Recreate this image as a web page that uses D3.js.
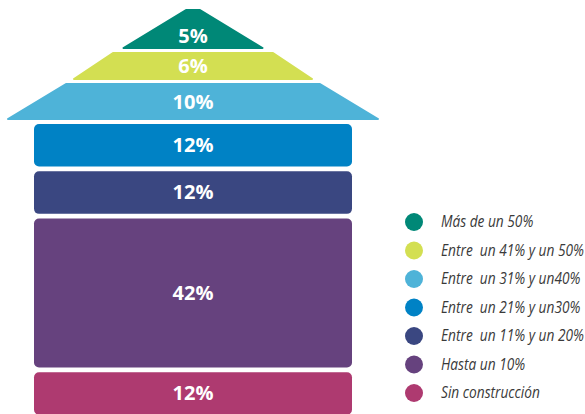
<!DOCTYPE html>
<html>
<head>
<meta charset="utf-8">
<script src="https://cdn.jsdelivr.net/npm/d3@7"></script>
<style>
  body { margin: 0; background: #fff; }
  svg { display: block; }
</style>
</head>
<body>
<div id="chart"></div>
<script>
// layers from top of the house to the bottom
var categories = ['Más de un 50%', 'Entre  un 41% y un 50%', 'Entre  un 31% y un40%',
                  'Entre  un 21% y un30%', 'Entre  un 11% y un 20%', 'Hasta un 10%', 'Sin construcción'];
var values = [5, 6, 10, 12, 12, 42, 12];
var colors = ['#008877', '#d3df52', '#4eb3d8', '#0082c5', '#3a4781', '#66427e', '#ae3a70'];

var width = 585, height = 414;

var svg = d3.select('#chart').append('svg')
    .attr('width', width)
    .attr('height', height);

var data = categories.map(function(c, i) {
    return { cat: c, value: values[i], color: colors[i] };
});

// roof: three trapezoids (top one nearly a triangle), shapes are fixed layout
var roof = [
    { top: 10, bottom: 48, topHalf: 7, baseHalf: 69.5 },
    { top: 53, bottom: 79, topHalf: 80, baseHalf: 119 },
    { top: 84, bottom: 119, topHalf: 127, baseHalf: 185 }
];
var cx = 193;

// body: rectangles whose heights follow the values
var bodyLeft = 34, bodyRight = 352, bodyTop = 124, gap = 4.7;
var h = d3.scaleLinear().domain([0, 42]).range([0, 149]);

var body = data.slice(3);
var y0 = bodyTop;
body.forEach(function(d) {
    d.y = y0;
    d.h = h(d.value);
    y0 += d.h + gap;
});

var roofData = data.slice(0, 3);
roofData.forEach(function(d, i) { d.g = roof[i]; });

svg.selectAll('path.roof')
    .data(roofData)
    .enter().append('path')
    .attr('class', 'roof')
    .attr('d', function(d) {
        var g = d.g;
        return 'M' + (cx - g.baseHalf) + ',' + g.bottom +
               'L' + (cx - g.topHalf) + ',' + g.top +
               'L' + (cx + g.topHalf) + ',' + g.top +
               'L' + (cx + g.baseHalf) + ',' + g.bottom + 'Z';
    })
    .attr('fill', function(d) { return d.color; })
    .attr('stroke', function(d) { return d.color; })
    .attr('stroke-width', 2)
    .attr('stroke-linejoin', 'round');

svg.selectAll('text.roof-label')
    .data(roofData)
    .enter().append('text')
    .attr('class', 'roof-label')
    .attr('x', cx)
    .attr('y', function(d, i) { return i === 0 ? d.g.bottom - 5 : (d.g.top + d.g.bottom) / 2; })
    .attr('dy', function(d, i) { return i === 0 ? 0 : '0.36em'; })
    .text(function(d) { return d.value + '%'; });

svg.selectAll('rect.layer')
    .data(body)
    .enter().append('rect')
    .attr('class', 'layer')
    .attr('x', bodyLeft)
    .attr('y', function(d) { return d.y; })
    .attr('width', bodyRight - bodyLeft)
    .attr('height', function(d) { return d.h; })
    .attr('rx', 5)
    .attr('fill', function(d) { return d.color; });

svg.selectAll('text.body-label')
    .data(body)
    .enter().append('text')
    .attr('class', 'body-label')
    .attr('x', (bodyLeft + bodyRight) / 2)
    .attr('y', function(d) { return d.y + Math.min(d.h, 42) / 2 + (d.h > 60 ? (d.h - 42) / 2 : 0); })
    .attr('dy', '0.36em')
    .text(function(d) { return d.value + '%'; });

svg.selectAll('text.roof-label, text.body-label')
    .attr('text-anchor', 'middle')
    .attr('fill', '#fff')
    .style('font-family', '"Open Sans", "Noto Sans", sans-serif')
    .style('font-weight', 700)
    .style('font-size', '20px');

// legend
var legendY = d3.scalePoint().domain(categories).range([222, 393]);
var legend = svg.append('g').attr('id', 'legend');

legend.selectAll('circle')
    .data(data)
    .enter().append('circle')
    .attr('cx', 414)
    .attr('cy', function(d) { return legendY(d.cat); })
    .attr('r', 9)
    .attr('fill', function(d) { return d.color; });

var legendText = legend.selectAll('text')
    .data(data)
    .enter().append('text')
    .attr('x', 0)
    .attr('y', 0)
    .attr('dy', '0.35em')
    .attr('fill', '#3a3a3a')
    .style('font-family', '"Open Sans", "Noto Sans", sans-serif')
    .style('font-style', 'italic')
    .style('font-size', '15.5px')
    .style('white-space', 'pre')
    .text(function(d) { return d.cat; });

// the original legend font is condensed: squeeze horizontally so the longest label fits
var longest = d3.max(legendText.nodes(), function(n) { return n.getComputedTextLength(); });
var squeeze = Math.min(1, 143 / longest);
legendText.attr('transform', function(d) {
    return 'translate(441,' + legendY(d.cat) + ') scale(' + squeeze + ',1)';
});
</script>
</body>
</html>
